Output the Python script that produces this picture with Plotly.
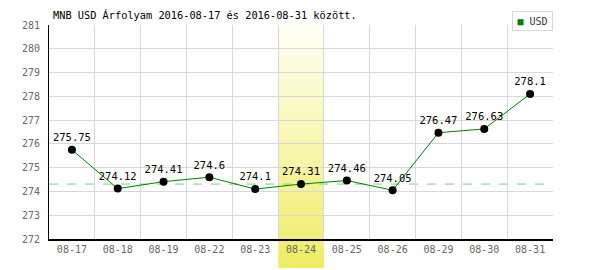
import plotly.graph_objects as go

dates = ["08-17", "08-18", "08-19", "08-22", "08-23", "08-24", "08-25", "08-26", "08-29", "08-30", "08-31"]
usd = [275.75, 274.12, 274.41, 274.6, 274.1, 274.31, 274.46, 274.05, 276.47, 276.63, 278.1]
highlight = "08-24"
ref_value = 274.31
series_name = "USD"
title = "MNB USD Árfolyam 2016-08-17 és 2016-08-31 között."

MONO = "DejaVu Sans Mono"

fig = go.Figure()
fig.add_trace(go.Scatter(
    x=dates, y=usd, mode="lines+markers+text",
    line=dict(color="#008000", width=1),
    marker=dict(color="black", size=8),
    text=[f"{v:g}" for v in usd], textposition="top center",
    textfont=dict(family=MONO, size=10.5, color="black"),
    showlegend=False, cliponaxis=False,
))

# highlight band with vertical gradient
hi = dates.index(highlight)
N = 40
top, bot = 1.0, -0.136
c0 = (255, 255, 245)
c1 = (240, 236, 100)
for k in range(N):
    t = (k + 0.5) / N
    col = tuple(int(round(c0[j] + (c1[j] - c0[j]) * t)) for j in range(3))
    y0 = top - (top - bot) * k / N
    y1 = top - (top - bot) * (k + 1) / N
    fig.add_shape(type="rect", xref="x", yref="paper",
                  x0=hi - 0.5, x1=hi + 0.5, y0=y1, y1=y0 + 0.002,
                  fillcolor="rgb(%d,%d,%d)" % col, line=dict(width=0), layer="between")

fig.add_shape(type="line", xref="paper", yref="y", x0=0, x1=1, y0=ref_value, y1=ref_value,
              line=dict(color="#80cc80", width=1, dash="dash"), layer="between")

# legend box
fig.add_annotation(
    xref="paper", yref="paper", x=1, xanchor="right", y=1 + 14/214, yanchor="top",
    text="<span style='color:#008000'>■</span> " + series_name, showarrow=False,
    font=dict(family=MONO, size=10, color="#333"),
    width=35, height=14, align="center", valign="middle",
    bordercolor="#d8d8d8", borderwidth=1, borderpad=2, bgcolor="white",
)

fig.update_layout(
    width=600, height=270,
    margin=dict(l=49, r=47, t=25, b=31),
    paper_bgcolor="white", plot_bgcolor="white",
    title=dict(text=title, x=53/600, xanchor="left", y=1 - 15/270, yanchor="middle",
               font=dict(family=MONO, size=10.3, color="black")),
    xaxis=dict(type="category", tickson="boundaries", showgrid=True, gridcolor="#d8d8d8",
               gridwidth=1, showline=True, linecolor="black", linewidth=2, ticks="",
               tickfont=dict(family=MONO, size=10, color="#666"), range=[-0.5, len(dates) - 0.5],
               fixedrange=True),
    yaxis=dict(range=[272, 281], dtick=1, showgrid=True, gridcolor="#d8d8d8", gridwidth=1,
               showline=True, linecolor="black", linewidth=1, ticks="", zeroline=False,
               tickfont=dict(family=MONO, size=10, color="#666"), ticklabelstandoff=6),
    showlegend=False,
)

fig.write_html("out.html")
